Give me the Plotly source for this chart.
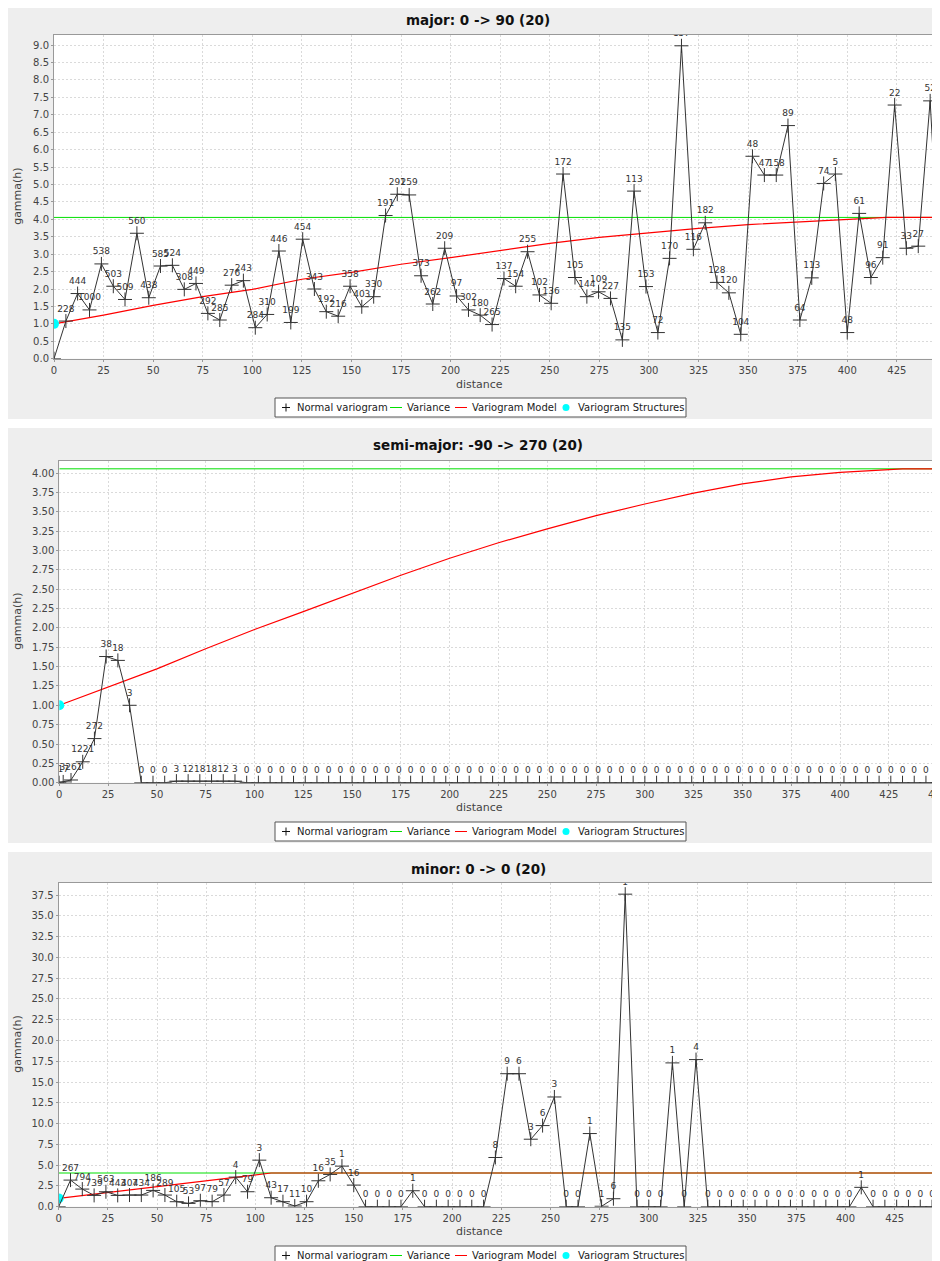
import plotly.graph_objects as go

# ---------------- data ----------------
# Panel 1: major 0 -> 90
major_dist = [0, 6.0, 11.9, 17.9, 23.9, 29.9, 35.8, 41.8, 47.8, 53.7, 59.7, 65.7, 71.6, 77.6, 83.6,
              89.6, 95.5, 101.5, 107.5, 113.4, 119.4, 125.4, 131.3, 137.3, 143.3, 149.3, 155.2, 161.2,
              167.2, 173.1, 179.1, 185.1, 191.0, 197.0, 203.0, 209.0, 214.9, 220.9, 226.9, 232.8, 238.8,
              244.8, 250.7, 256.7, 262.7, 268.7, 274.6, 280.6, 286.6, 292.5, 298.5, 304.5, 310.4, 316.4,
              322.4, 328.4, 334.3, 340.3, 346.3, 352.2, 358.2, 364.2, 370.1, 376.1, 382.1, 388.1, 394.0,
              400.0, 406.0, 411.9, 417.9, 423.9, 429.8, 435.8, 441.8, 447.8]
major_gamma = [0.0, 1.08, 1.87, 1.40, 2.72, 2.08, 1.70, 3.60, 1.75, 2.66, 2.68, 1.99, 2.16, 1.30, 1.11,
               2.11, 2.24, 0.89, 1.27, 3.09, 1.04, 3.43, 2.00, 1.35, 1.22, 2.08, 1.49, 1.78, 4.11, 4.72,
               4.70, 2.38, 1.57, 3.17, 1.80, 1.40, 1.25, 0.98, 2.30, 2.08, 3.07, 1.83, 1.59, 5.30, 2.33,
               1.78, 1.92, 1.73, 0.54, 4.81, 2.07, 0.75, 2.88, 8.98, 3.14, 3.90, 2.19, 1.89, 0.70, 5.81,
               5.27, 5.27, 6.69, 1.11, 2.32, 5.03, 5.30, 0.75, 4.17, 2.33, 2.90, 7.28, 3.17, 3.23, 7.40, 1.2]
major_pairs = ["", "228", "444", "1000", "538", "503", "509", "560", "438", "585", "524", "308", "449",
               "292", "285", "276", "243", "284", "310", "446", "199", "454", "343", "192", "216", "358",
               "403", "330", "191", "291", "259", "373", "262", "209", "97", "302", "180", "265", "137",
               "154", "255", "102", "136", "172", "105", "144", "109", "227", "135", "113", "153", "72",
               "170", "157", "116", "182", "128", "120", "104", "48", "47", "158", "89", "64", "113", "74",
               "5", "48", "61", "96", "91", "22", "33", "27", "52", ""]
major_model_dist = [0, 25, 50, 75, 100, 125, 150, 175, 200, 225, 250, 275, 300, 325, 350, 375, 400, 420, 470]
major_model_gamma = [1.0, 1.25, 1.53, 1.78, 1.99, 2.28, 2.48, 2.71, 2.90, 3.10, 3.31, 3.48, 3.62, 3.74,
                     3.85, 3.93, 4.01, 4.055, 4.055]

# Panel 2: semi-major -90 -> 270
semi_dist = [0, 2, 6, 12, 18, 24, 30, 36, 42, 48, 54, 60, 66, 72, 78, 84, 90, 96, 102, 108, 114, 120, 126,
             132, 138, 144, 150, 156, 162, 168, 174, 180, 186, 192, 198, 204, 210, 216, 222, 228, 234, 240,
             246, 252, 258, 264, 270, 276, 282, 288, 294, 300, 306, 312, 318, 324, 330, 336, 342, 348, 354,
             360, 366, 372, 378, 384, 390, 396, 402, 408, 414, 420, 426, 432, 438, 444, 450]
semi_gamma = [0, 0.01, 0.035, 0.27, 0.57, 1.63, 1.58, 1.00, 0, 0, 0, 0.02, 0.02, 0.02, 0.02, 0.02, 0.02,
              0, 0, 0, 0, 0, 0, 0, 0, 0, 0, 0, 0, 0, 0, 0, 0, 0, 0, 0, 0, 0, 0, 0, 0, 0, 0, 0, 0, 0, 0,
              0, 0, 0, 0, 0, 0, 0, 0, 0, 0, 0, 0, 0, 0, 0, 0, 0, 0, 0, 0, 0, 0, 0, 0, 0, 0, 0, 0, 0, 0]
semi_pairs = ["", "17", "3261", "1221", "272", "38", "18", "3", "0", "0", "0", "3", "12", "18", "18", "12",
              "3", "0", "0", "0", "0", "0", "0", "0", "0", "0", "0", "0", "0", "0", "0", "0", "0", "0",
              "0", "0", "0", "0", "0", "0", "0", "0", "0", "0", "0", "0", "0", "0", "0", "0", "0", "0",
              "0", "0", "0", "0", "0", "0", "0", "0", "0", "0", "0", "0", "0", "0", "0", "0", "0", "0",
              "0", "0", "0", "0", "0", "0", "0"]
semi_model_dist = [0, 25, 50, 75, 100, 125, 150, 175, 200, 225, 250, 275, 300, 325, 350, 375, 400, 425, 432, 470]
semi_model_gamma = [1.00, 1.23, 1.47, 1.73, 1.98, 2.21, 2.45, 2.68, 2.90, 3.10, 3.28, 3.45, 3.60, 3.74,
                    3.86, 3.95, 4.01, 4.05, 4.055, 4.055]

# Panel 3: minor 0 -> 0
minor_dist = [0, 6, 12, 18, 24, 30, 36, 42, 48, 54, 60, 66, 72, 78, 84, 90, 96, 102, 108, 114, 120, 126,
              132, 138, 144, 150, 156, 162, 168, 174, 180, 186, 192, 198, 204, 210, 216, 222, 228, 234, 240,
              246, 252, 258, 264, 270, 276, 282, 288, 294, 300, 306, 312, 318, 324, 330, 336, 342, 348, 354,
              360, 366, 372, 378, 384, 390, 396, 402, 408, 414, 420, 426, 432, 438, 444, 450]
minor_gamma = [0, 3.2, 2.12, 1.36, 1.8, 1.36, 1.4, 1.4, 1.96, 1.4, 0.6, 0.4, 0.72, 0.6, 1.4, 3.56, 1.8,
               5.6, 1.08, 0.6, 0.08, 0.6, 3.12, 3.88, 4.88, 2.6, 0, 0, 0, 0, 1.92, 0, 0, 0, 0, 0, 0, 5.92,
               16.0, 16.0, 8.12, 9.76, 13.2, 0, 0, 8.8, 0.05, 0.96, 37.6, 0, 0, 0, 17.3, 0, 17.7,
               0, 0, 0, 0, 0, 0, 0, 0, 0, 0, 0, 0, 0, 2.33, 0, 0, 0, 0, 0, 0, 0]
minor_pairs = ["", "267", "794", "739", "563", "443", "407", "434", "186", "289", "105", "53", "97", "79",
               "57", "4", "79", "3", "43", "17", "11", "10", "16", "35", "1", "16", "0", "0", "0", "0", "1",
               "0", "0", "0", "0", "0", "0", "8", "9", "6", "3", "6", "3", "0", "0", "1", "1", "6", "1",
               "0", "0", "0", "1", "0", "4", "0", "0", "0", "0", "0", "0", "0", "0", "0", "0", "0", "0", "0",
               "1", "0", "0", "0", "0", "0", "0", "0"]
minor_model_dist = [0, 25, 50, 75, 100, 108, 470]
minor_model_gamma = [1.0, 1.72, 2.42, 3.12, 3.82, 4.055, 4.055]

variance = 4.055
variance_dist = [0, 470]
structure_dist = [0]
structure_gamma = [1.0]

titles = ["major: 0 -> 90 (20)", "semi-major: -90 -> 270 (20)", "minor: 0 -> 0 (20)"]
legend_names = ["Normal variogram", "Variance", "Variogram Model", "Variogram Structures"]

# ---------------- layout geometry ----------------
# positions measured on the screen; the page body adds an 8 px offset
W, H = 940, 1261
OFF = 8
panels = [
    dict(left=54.0, top=35.0, bottom=358.7, xmax=450.8, ymax=9.29, dtick=0.5, fmt=".1f",
         title_y=20, xlab_y=384, leg_top=398, gap=(419, 428)),
    dict(left=59.3, top=461.0, bottom=782.7, xmax=455.3, ymax=4.156, dtick=0.25, fmt=".2f",
         title_y=445, xlab_y=807, leg_top=822, gap=(843, 852)),
    dict(left=58.7, top=882.7, bottom=1206.7, xmax=452.1, ymax=38.98, dtick=2.5, fmt=".1f",
         title_y=869, xlab_y=1231, leg_top=1246, gap=None),
]
data = [
    (major_dist, major_gamma, major_pairs, major_model_dist, major_model_gamma),
    (semi_dist, semi_gamma, semi_pairs, semi_model_dist, semi_model_gamma),
    (minor_dist, minor_gamma, minor_pairs, minor_model_dist, minor_model_gamma),
]


def px(sx):
    return (sx - OFF) / W


def py(sy):
    return (H - (sy - OFF)) / H


FONT = "DejaVu Sans"
GREEN, RED, CYAN = "#00E000", "#FF0000", "#00FFFF"
fig = go.Figure()
annotations, shapes = [], []
layout = dict(width=W, height=H, margin=dict(l=0, r=0, t=0, b=0, autoexpand=False),
              paper_bgcolor="#EEEEEE", plot_bgcolor="white",
              font=dict(family=FONT, size=10, color="#444444"), showlegend=False)


def ann(text, sx, sy, size, color="#444444", xanchor="center", angle=0):
    annotations.append(dict(text=text, x=px(sx), y=py(sy), xref="paper", yref="paper",
                            showarrow=False, xanchor=xanchor, yanchor="middle", textangle=angle,
                            font=dict(family=FONT, size=size, color=color)))


def seg(x0, y0, x1, y1, color, width=1):
    shapes.append(dict(type="line", xref="paper", yref="paper", x0=px(x0), y0=py(y0),
                       x1=px(x1), y1=py(y1), line=dict(color=color, width=width)))


for i, (p, d) in enumerate(zip(panels, data)):
    n = "" if i == 0 else str(i + 1)
    xa, ya = "x" + n, "y" + n
    dist, gam, pairs, mdist, mgam = d
    fig.add_trace(go.Scatter(x=variance_dist, y=[variance, variance], mode="lines",
                             line=dict(color=GREEN, width=1), name=legend_names[1],
                             xaxis=xa, yaxis=ya))
    fig.add_trace(go.Scatter(x=mdist, y=mgam, mode="lines", line=dict(color=RED, width=1.2),
                             name=legend_names[2], xaxis=xa, yaxis=ya))
    fig.add_trace(go.Scatter(x=structure_dist, y=structure_gamma, mode="markers",
                             marker=dict(color=CYAN, size=10, symbol="circle"),
                             name=legend_names[3], xaxis=xa, yaxis=ya))
    fig.add_trace(go.Scatter(x=dist, y=gam, mode="lines+markers+text", text=pairs,
                             textposition="top center",
                             textfont=dict(family=FONT, size=9, color="#333333"),
                             line=dict(color="#333333", width=1),
                             marker=dict(symbol="cross-thin-open", size=10,
                                         line=dict(color="#111111", width=1)),
                             name=legend_names[0], xaxis=xa, yaxis=ya, cliponaxis=True))
    axcommon = dict(showline=True, linecolor="#999999", linewidth=1, mirror=True,
                    ticks="outside", ticklen=2, tickcolor="#999999", automargin=False,
                    showgrid=True, gridcolor="#DADADA", griddash="2px,2px", gridwidth=1,
                    zeroline=False, tickfont=dict(family=FONT, size=10, color="#444444"))
    layout["xaxis" + n] = dict(domain=[px(p["left"]), 1.0], anchor=ya, range=[0, p["xmax"]],
                               tick0=0, dtick=25, **axcommon)
    layout["yaxis" + n] = dict(domain=[py(p["bottom"]), py(p["top"])], anchor=xa,
                               range=[0, p["ymax"]], tick0=0, dtick=p["dtick"],
                               tickformat=p["fmt"], **axcommon)

    # titles and axis labels
    ann("<b>" + titles[i] + "</b>", 478, p["title_y"], 13.5, "#111111")
    ann("distance", 480, p["xlab_y"], 11)
    ann("gamma(h)", 18, (p["top"] + p["bottom"]) / 2, 11, angle=-90)

    # legend box (JFreeChart style)
    lt = p["leg_top"]
    cy = lt + 9.5
    shapes.append(dict(type="rect", xref="paper", yref="paper", x0=px(275), x1=px(686),
                       y0=py(lt + 19), y1=py(lt), fillcolor="white",
                       line=dict(color="#555555", width=1)))
    seg(282, cy, 290, cy, "#111111")
    seg(286, cy - 4, 286, cy + 4, "#111111")
    ann(legend_names[0], 295, cy, 10, "#222222", xanchor="left")
    seg(390, cy, 402, cy, GREEN)
    ann(legend_names[1], 405, cy, 10, "#222222", xanchor="left")
    seg(455, cy, 467, cy, RED)
    ann(legend_names[2], 470, cy, 10, "#222222", xanchor="left")
    shapes.append(dict(type="circle", xref="paper", yref="paper", x0=px(562.5), x1=px(569.5),
                       y0=py(cy + 3.5), y1=py(cy - 3.5), fillcolor=CYAN, line=dict(width=0)))
    ann(legend_names[3], 576, cy, 10, "#222222", xanchor="left")

    if p["gap"]:
        g0, g1 = p["gap"]
        shapes.append(dict(type="rect", xref="paper", yref="paper", x0=0, x1=1,
                           y0=py(g1), y1=py(g0), fillcolor="white", line_width=0, layer="below"))

layout["annotations"] = annotations
layout["shapes"] = shapes
fig.update_layout(**layout)
fig.write_html("out.html")
